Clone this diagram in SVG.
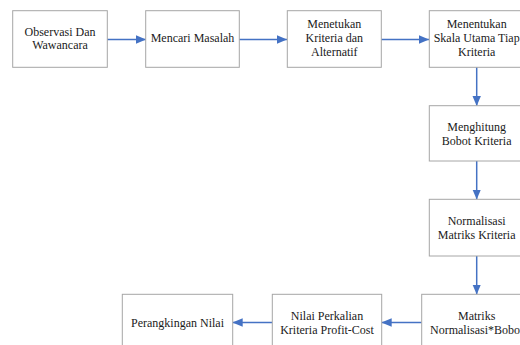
<svg xmlns="http://www.w3.org/2000/svg" width="520" height="345" viewBox="0 0 520 345">
<style>
.box{fill:#fff;stroke:#a6a6a6;stroke-width:1}
.t{font-family:"Liberation Serif","Times New Roman",serif;font-size:12px;fill:#1a1a1a;text-anchor:middle}
.c{stroke:#4472c4;stroke-width:1.5;fill:none;marker-end:url(#ah)}
</style>
<defs>
<marker id="ah" markerUnits="userSpaceOnUse" markerWidth="10" markerHeight="10" viewBox="0 0 10 10" refX="10" refY="5" orient="auto">
<path d="M0,0.8 L10,5 L0,9.2 z" fill="#4472c4"/>
</marker>
</defs>
<rect width="520" height="345" fill="#fff"/>
<g id="connectors">
<path class="c" d="M107,39.5 H146"/>
<path class="c" d="M239,39.5 H287"/>
<path class="c" d="M381,39.5 H429"/>
<path class="c" d="M476.7,67 V106"/>
<path class="c" d="M476.7,161 V199.5"/>
<path class="c" d="M476.7,256 V294.5"/>
<path class="c" d="M421.7,322.5 H381.7"/>
<path class="c" d="M272.3,322.5 H232.7"/>
</g>
<g id="n1"><rect class="box" x="12.7" y="10.7" width="94.6" height="56.6"/><text class="t" x="60" y="35.5">Observasi Dan</text><text class="t" x="60" y="48.5">Wawancara</text></g>
<g id="n2"><rect class="box" x="145.7" y="10.7" width="93.6" height="56.6"/><text class="t" x="192.5" y="42">Mencari Masalah</text></g>
<g id="n3"><rect class="box" x="287.3" y="10.7" width="94" height="56.6"/><text class="t" x="334.3" y="28">Menetukan</text><text class="t" x="334.3" y="42">Kriteria dan</text><text class="t" x="334.3" y="56">Alternatif</text></g>
<g id="n4"><rect class="box" x="429.3" y="10.7" width="94.6" height="56.6"/><text class="t" x="476.7" y="28">Menentukan</text><text class="t" x="476.7" y="42">Skala Utama Tiap</text><text class="t" x="476.7" y="56">Kriteria</text></g>
<g id="n5"><rect class="box" x="429.3" y="105.7" width="94.6" height="55.3"/><text class="t" x="476.7" y="130.5">Menghitung</text><text class="t" x="476.7" y="144.5">Bobot Kriteria</text></g>
<g id="n6"><rect class="box" x="429.3" y="199.3" width="94.6" height="56.7"/><text class="t" x="476.7" y="224.5">Normalisasi</text><text class="t" x="476.7" y="238.5">Matriks Kriteria</text></g>
<g id="n7"><rect class="box" x="421.7" y="294.3" width="110" height="57"/><text class="t" x="476.7" y="319.5">Matriks</text><text class="t" x="476.7" y="333.5">Normalisasi*Bobot</text></g>
<g id="n8"><rect class="box" x="272.3" y="294.3" width="109.4" height="57"/><text class="t" x="327" y="319.5">Nilai Perkalian</text><text class="t" x="327" y="333.5">Kriteria Profit-Cost</text></g>
<g id="n9"><rect class="box" x="122.3" y="294.3" width="110.4" height="57"/><text class="t" x="177.5" y="326.5">Perangkingan Nilai</text></g>
</svg>
